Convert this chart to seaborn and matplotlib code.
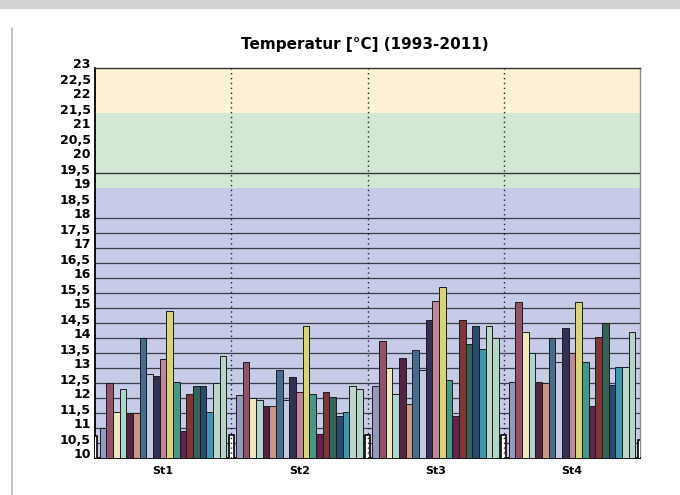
import numpy as np
import pandas as pd
import matplotlib
matplotlib.use("Agg")
import matplotlib.pyplot as plt
import matplotlib.transforms as mtransforms
from matplotlib.patches import Rectangle
from matplotlib.lines import Line2D
import seaborn as sns

# Mean annual temperature per station, years 1993-2011
stations = ["St1", "St2", "St3", "St4"]
years = [str(y) for y in range(1993, 2012)]

st1 = [11.0, 12.5, 11.55, 12.3, 11.5, 11.5, 14.0, 12.8, 12.75, 13.3,
       14.9, 12.55, 10.9, 12.15, 12.4, 12.4, 11.55, 12.5, 13.4]
st2 = [12.1, 13.2, 12.0, 11.95, 11.75, 11.75, 12.95, 11.95, 12.7, 12.2,
       14.4, 12.15, 10.8, 12.2, 12.05, 11.4, 11.55, 12.4, 12.3]
st3 = [12.4, 13.9, 13.0, 12.15, 13.35, 11.8, 13.6, 12.95, 14.6, 15.25,
       15.7, 12.6, 11.4, 14.6, 13.8, 14.4, 13.65, 14.4, 14.0]
st4 = [12.55, 15.2, 14.2, 13.5, 12.55, 12.5, 14.0, 13.2, 14.35, 13.5,
       15.2, 13.2, 11.75, 14.05, 14.5, 12.45, 13.05, 13.05, 14.2]

# short markers standing on the station boundaries
edge_marks = [10.75, 10.77, 10.77, 10.77, 10.6]

y_ticks = [10, 10.5, 11, 11.5, 12, 12.5, 13, 13.5, 14, 14.5, 15, 15.5, 16,
           16.5, 17, 17.5, 18, 18.5, 19, 19.5, 20, 20.5, 21, 21.5, 22,
           22.5, 23]

year_colors = ["#8c95c4", "#9b4868", "#f6f0b4", "#a9d9d1", "#5b1c42",
               "#d98c7a", "#3b6c9c", "#bcc3ea", "#2b2a5c", "#c97c9a",
               "#e9e06c", "#36a88e", "#6c1a52", "#8a2b29", "#2b6c5b",
               "#1c4b7c", "#2ba1c2", "#b6dccb", "#afdcc6"]

df = pd.DataFrame({
    "station": np.repeat(stations, len(years)),
    "year": years * len(stations),
    "temp": st1 + st2 + st3 + st4,
})

sns.set_theme(style="white")
plt.rcParams["font.family"] = ["DejaVu Sans"]
plt.rcParams["text.color"] = "black"
plt.rcParams["xtick.color"] = "black"
plt.rcParams["ytick.color"] = "black"

fig = plt.figure(figsize=(6.8, 4.95), dpi=100)
fig.patch.set_facecolor("white")

# window strip and chart frame
fig.add_artist(Rectangle((0, 1 - 9 / 495), 1, 9 / 495, transform=fig.transFigure,
                         facecolor="#d2d2d2", edgecolor="none"))
fig.add_artist(Line2D([12 / 680, 12 / 680], [0, 1 - 28 / 495],
                      transform=fig.transFigure, color="#b8b8b8", lw=1.2))

ax = fig.add_axes([95 / 680, 37 / 495, 545 / 680, 390 / 495])

# comfort bands
ax.axhspan(10, 19, color="#c6cbe7", zorder=0, lw=0)
ax.axhspan(19, 21.5, color="#d4e7d5", zorder=0, lw=0)
ax.axhspan(21.5, 23, color="#fcf1d4", zorder=0, lw=0)
for g in np.arange(10.5, 18.01, 0.5):
    ax.axhline(g, color="#3a3f4a", lw=0.9, zorder=1)
ax.axhline(19.5, color="#2e3a30", lw=1.0, zorder=1)

sns.barplot(data=df, x="station", y="temp", hue="year", order=stations,
            hue_order=years, palette=year_colors, width=0.93,
            edgecolor="#1b1b1b", linewidth=0.7, legend=False, ax=ax,
            zorder=3, errorbar=None)

bounds = np.arange(len(stations) + 1) - 0.5
ax.bar(bounds, edge_marks, width=0.035, color="white", edgecolor="black",
       linewidth=1.2, zorder=4)
ax.vlines(bounds[1:-1], 10, 23, colors="#222222", linestyles=(0, (1, 2.5)),
          lw=1.0, zorder=5)

ax.set_xlim(-0.5, len(stations) - 0.5)
ax.set_ylim(10, 23)
ax.set_yticks(y_ticks)
ax.set_yticklabels([f"{t:g}".replace(".", ",") for t in y_ticks],
                   fontsize=9, fontweight="bold", color="black")
ax.set_xticks(range(len(stations)))
ax.set_xticklabels(stations, fontsize=8, fontweight="bold", color="black")
ax.tick_params(axis="y", length=0, pad=3)
ax.tick_params(axis="x", length=0, pad=6)
ax.set_xlabel("")
ax.set_ylabel("")

shift = mtransforms.ScaledTranslation(0, 0.045, fig.dpi_scale_trans)
for lab in ax.get_yticklabels():
    lab.set_transform(lab.get_transform() + shift)

for side, col, lw in [("left", "black", 1.3), ("bottom", "black", 1.3),
                      ("top", "#333333", 1.0), ("right", "#8a8a8a", 1.0)]:
    ax.spines[side].set_visible(True)
    ax.spines[side].set_color(col)
    ax.spines[side].set_linewidth(lw)

fig.text(365 / 680, 1 - 45 / 495, "Temperatur [°C] (1993-2011)",
         ha="center", va="center", fontsize=11, fontweight="bold",
         color="black")

fig.savefig("out.png", dpi=100)
